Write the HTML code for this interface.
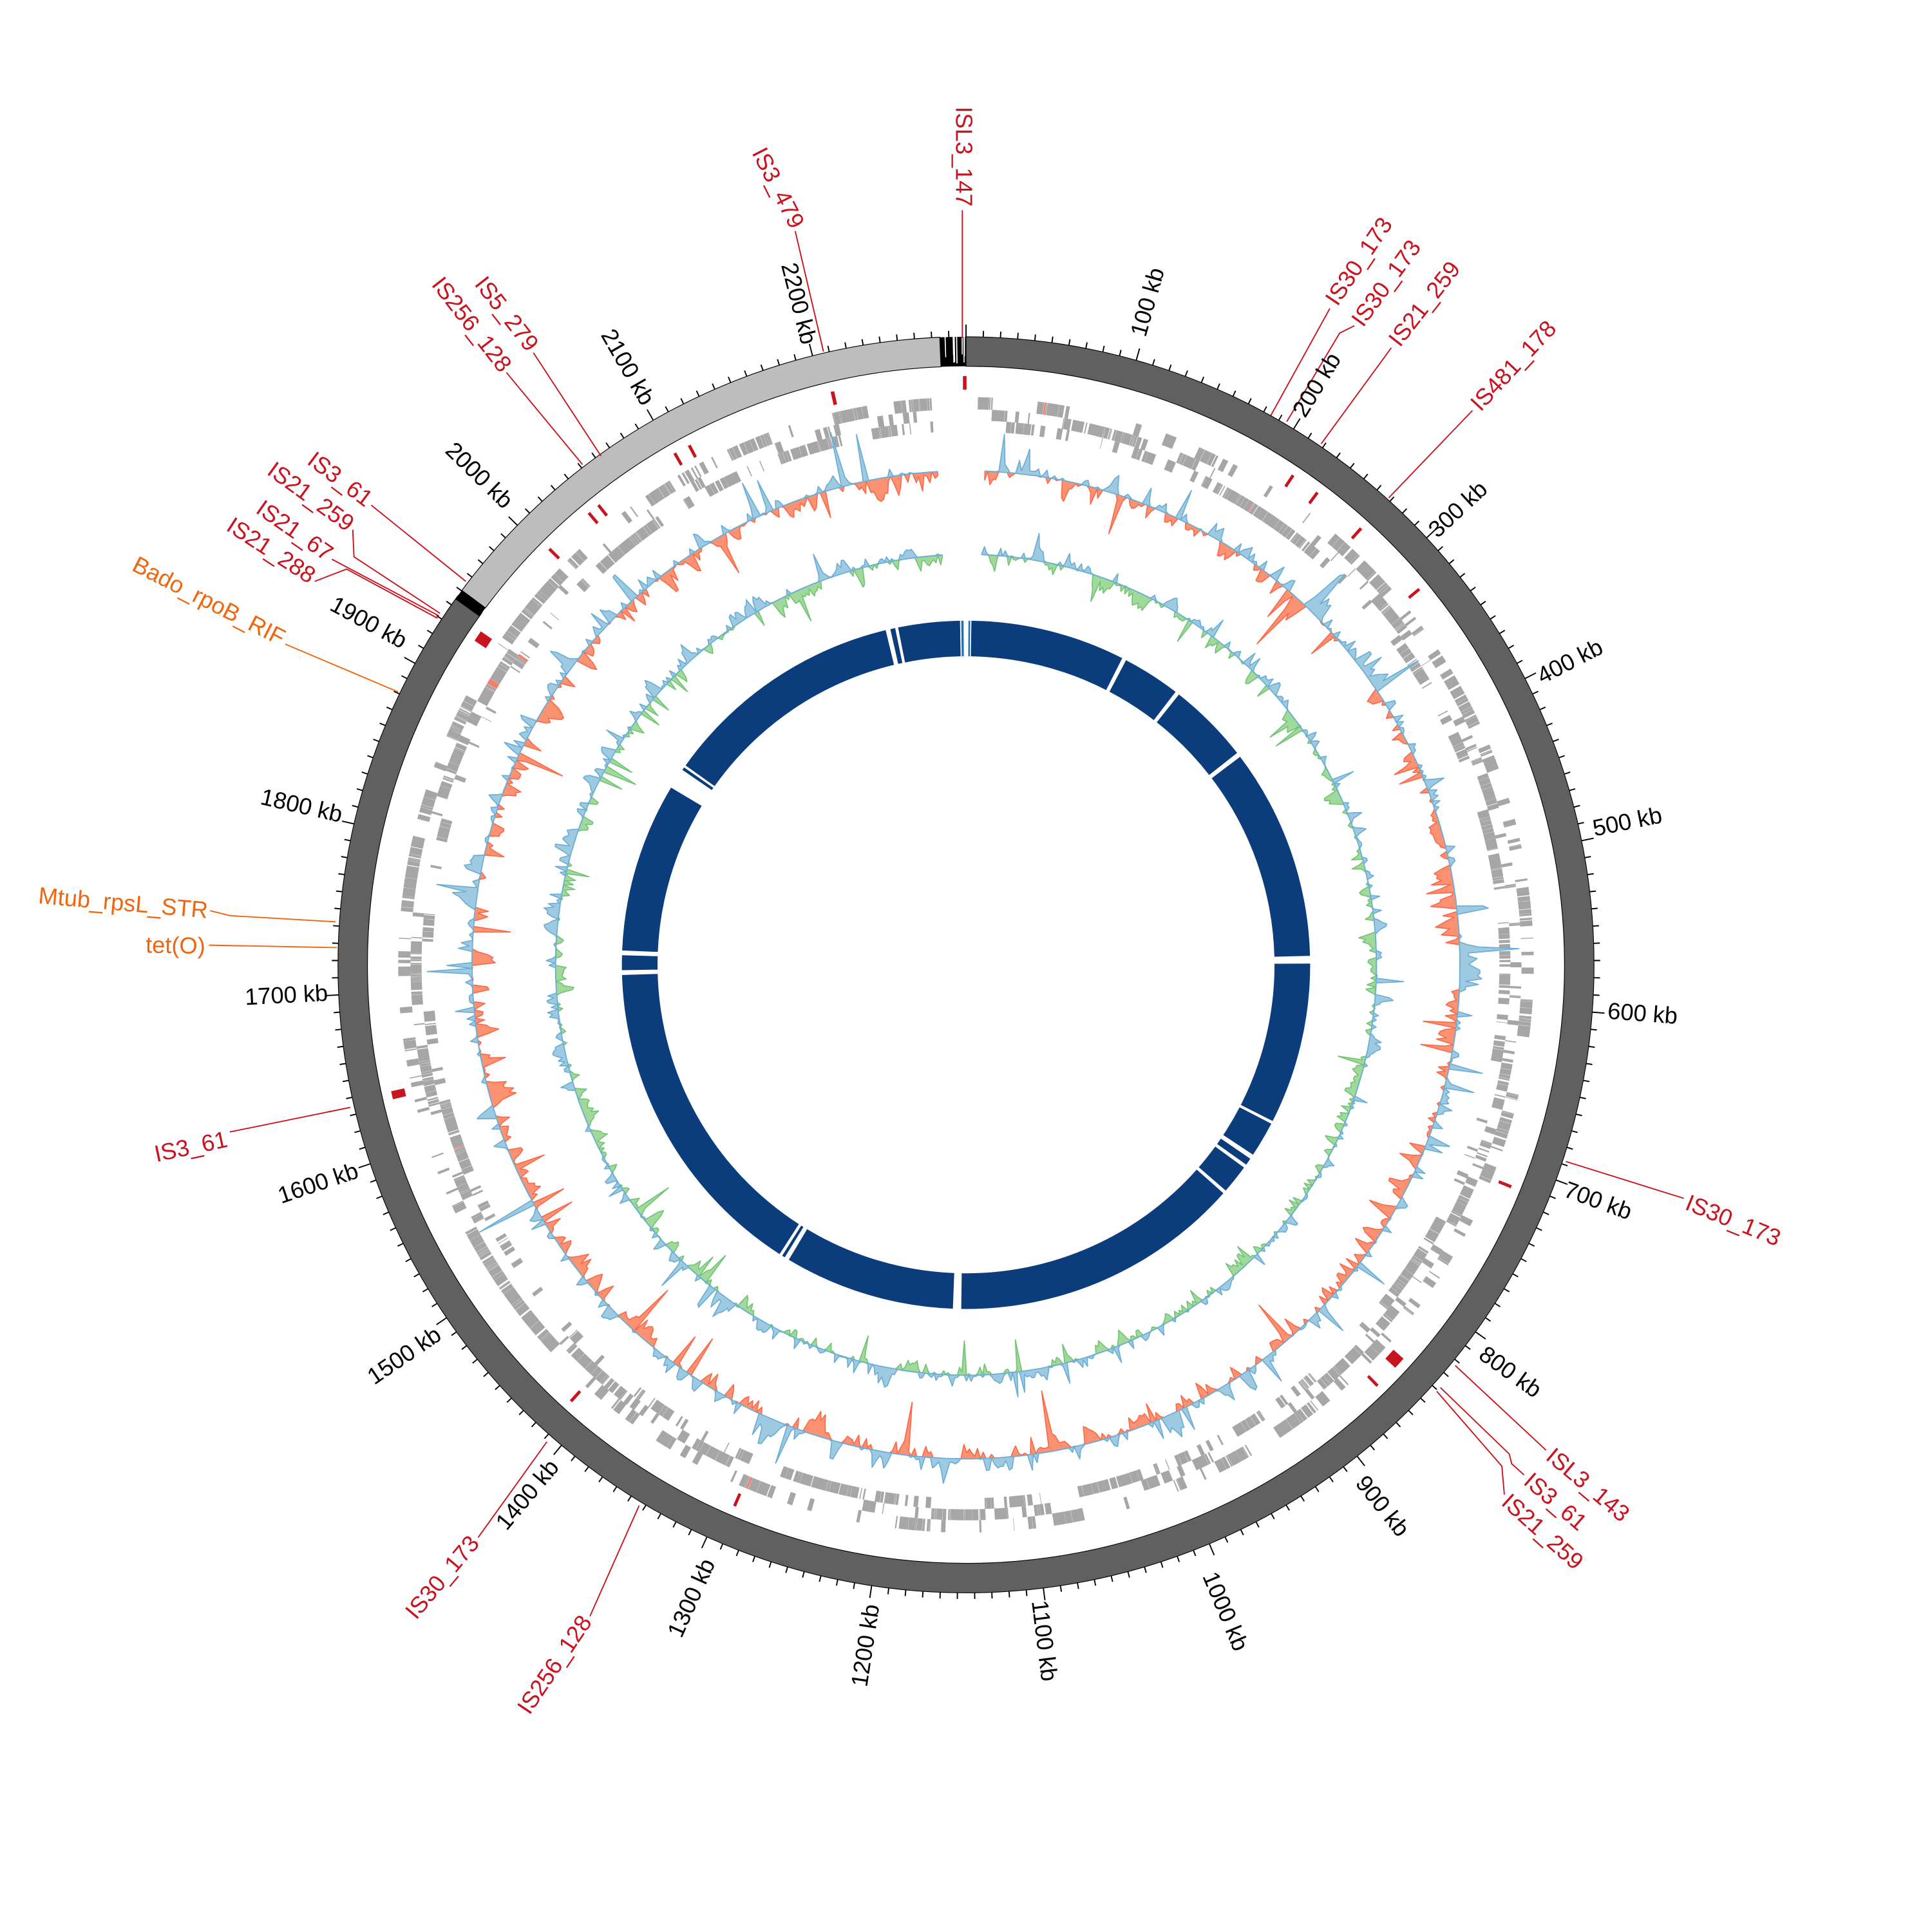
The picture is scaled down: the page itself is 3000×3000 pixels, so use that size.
<!DOCTYPE html>
<html><head><meta charset="utf-8"><style>
html,body{margin:0;padding:0;background:#fff}
svg{display:block}
text{font-family:"Liberation Sans",sans-serif}
.kb{font-size:19px;fill:#000}
.r{font-size:19px;fill:#c8141e}
.o{font-size:19px;fill:#f0660f}
.lr{stroke:#c8141e;stroke-width:1;fill:none}
.lo{stroke:#f0660f;stroke-width:1;fill:none}
</style></head><body>
<svg id="s" xmlns="http://www.w3.org/2000/svg" width="3000" height="3000" viewBox="0 0 1550 1550">
<rect width="1550" height="1550" fill="#fff"/>
<g transform="matrix(0.986 0 0 0.986 2 3)">
<g id="tracks"></g>
<g id="labels" dominant-baseline="middle">
<polyline class="lr" points="781,168 781,272"/>
<polyline class="lr" points="645,185 668,283"/>
<polyline class="lr" points="410,300 472,375"/>
<polyline class="lr" points="432,284 487,368"/>
<polyline class="lr" points="300,408 377,470"/>
<polyline class="lr" points="285,428 286,450 356,496"/>
<polyline class="lr" points="268,452 355,498"/>
<polyline class="lr" points="254,470 280,460 354,500"/>
<polyline class="lo" points="230,521 322,560"/>
<polyline class="lo" points="169,738 185,742 271,747"/>
<polyline class="lo" points="168,766 272,768"/>
<polyline class="lr" points="185,918 283,898"/>
<polyline class="lr" points="387,1248 443,1170"/>
<polyline class="lr" points="478,1312 518,1222"/>
<polyline class="lr" points="1368,972 1272,942"/>
<polyline class="lr" points="1256,1177 1182,1108"/>
<polyline class="lr" points="1238,1197 1228,1188 1226,1180 1170,1126"/>
<polyline class="lr" points="1222,1213 1220,1190 1167,1129"/>
<polyline class="lr" points="1080,248 1032,335"/>
<polyline class="lr" points="1100,262 1088,268 1045,340"/>
<polyline class="lr" points="1130,280 1073,358"/>
<polyline class="lr" points="1196,331 1128,402"/>
<text class="r" text-anchor="end" transform="translate(781,165) rotate(90)">ISL3_147</text>
<text class="r" text-anchor="end" transform="translate(646,182) rotate(63)">IS3_479</text>
<text class="r" text-anchor="end" transform="translate(409,298) rotate(52)">IS256_128</text>
<text class="r" text-anchor="end" transform="translate(431,281) rotate(52)">IS5_279</text>
<text class="r" text-anchor="end" transform="translate(298,406) rotate(37)">IS3_61</text>
<text class="r" text-anchor="end" transform="translate(283,426) rotate(36)">IS21_259</text>
<text class="r" text-anchor="end" transform="translate(266,450) rotate(35)">IS21_67</text>
<text class="r" text-anchor="end" transform="translate(252,468) rotate(33)">IS21_288</text>
<text class="o" text-anchor="end" transform="translate(228,518) rotate(27)">Bado_rpoB_RIF</text>
<text class="o" text-anchor="end" transform="translate(167,739) rotate(5)">Mtub_rpsL_STR</text>
<text class="o" text-anchor="end" transform="translate(165,768) rotate(1)">tet(O)</text>
<text class="r" text-anchor="end" transform="translate(183,925) rotate(-12)">IS3_61</text>
<text class="r" text-anchor="end" transform="translate(385,1250) rotate(-50)">IS30_173</text>
<text class="r" text-anchor="end" transform="translate(476,1314) rotate(-56)">IS256_128</text>
<text class="r" text-anchor="start" transform="translate(1370,976) rotate(22)">IS30_173</text>
<text class="r" text-anchor="start" transform="translate(1258,1180) rotate(40)">ISL3_143</text>
<text class="r" text-anchor="start" transform="translate(1240,1200) rotate(41)">IS3_61</text>
<text class="r" text-anchor="start" transform="translate(1222,1217) rotate(42)">IS21_259</text>
<text class="r" text-anchor="start" transform="translate(1082,244) rotate(-56)">IS30_173</text>
<text class="r" text-anchor="start" transform="translate(1103,261) rotate(-54)">IS30_173</text>
<text class="r" text-anchor="start" transform="translate(1133,277) rotate(-52)">IS21_259</text>
<text class="r" text-anchor="start" transform="translate(1199,329) rotate(-47)">IS481_178</text>
<text class="kb" text-anchor="start" transform="translate(925.2,270.5) rotate(-74.3)">100 kb</text>
<text class="kb" text-anchor="start" transform="translate(1055.6,335.1) rotate(-58.6)">200 kb</text>
<text class="kb" text-anchor="start" transform="translate(1164.2,431.7) rotate(-42.9)">300 kb</text>
<text class="kb" text-anchor="start" transform="translate(1250.6,549.3) rotate(-27.2)">400 kb</text>
<text class="kb" text-anchor="start" transform="translate(1294.4,672.5) rotate(-11.4)">500 kb</text>
<text class="kb" text-anchor="start" transform="translate(1306.0,820.8) rotate(4.3)">600 kb</text>
<text class="kb" text-anchor="start" transform="translate(1271.0,965.4) rotate(20.0)">700 kb</text>
<text class="kb" text-anchor="start" transform="translate(1203.0,1097.7) rotate(35.7)">800 kb</text>
<text class="kb" text-anchor="start" transform="translate(1104.1,1200.9) rotate(51.4)">900 kb</text>
<text class="kb" text-anchor="start" transform="translate(980.8,1277.4) rotate(67.2)">1000 kb</text>
<text class="kb" text-anchor="start" transform="translate(842.4,1299.3) rotate(82.9)">1100 kb</text>
<text class="kb" text-anchor="end" transform="translate(708.5,1302.6) rotate(-81.4)">1200 kb</text>
<text class="kb" text-anchor="end" transform="translate(575.6,1266.9) rotate(-65.7)">1300 kb</text>
<text class="kb" text-anchor="end" transform="translate(449.8,1188.0) rotate(-50.0)">1400 kb</text>
<text class="kb" text-anchor="end" transform="translate(355.5,1081.9) rotate(-34.3)">1500 kb</text>
<text class="kb" text-anchor="end" transform="translate(289.2,950.1) rotate(-18.6)">1600 kb</text>
<text class="kb" text-anchor="end" transform="translate(264.8,806.2) rotate(-2.9)">1700 kb</text>
<text class="kb" text-anchor="end" transform="translate(276.0,661.3) rotate(12.9)">1800 kb</text>
<text class="kb" text-anchor="end" transform="translate(327.0,520.7) rotate(28.6)">1900 kb</text>
<text class="kb" text-anchor="end" transform="translate(411.2,408.2) rotate(44.3)">2000 kb</text>
<text class="kb" text-anchor="end" transform="translate(524.6,325.5) rotate(60.0)">2100 kb</text>
<text class="kb" text-anchor="end" transform="translate(655.1,276.9) rotate(75.7)">2200 kb</text>
</g>
</g>
</svg>
<script>
(function(){
var CX=784,CY=782,L=2290;
var g=document.getElementById("tracks");
function P(r,a){var t=a*Math.PI/180;return [CX+r*Math.sin(t),CY-r*Math.cos(t)];}
function f(p){return p[0].toFixed(1)+","+p[1].toFixed(1);}
function arc(r1,r2,a1,a2){var l=(a2-a1)>180?1:0;var p1=P(r2,a1),p2=P(r2,a2),p3=P(r1,a2),p4=P(r1,a1);
return "M"+f(p1)+"A"+r2+","+r2+" 0 "+l+" 1 "+f(p2)+"L"+f(p3)+"A"+r1+","+r1+" 0 "+l+" 0 "+f(p4)+"Z";}
var out=[];
function path(d,fill,extra){out.push('<path d="'+d+'" fill="'+fill+'" '+(extra||'')+'/>');}
var seed=12345;function rnd(){seed|=0;seed=seed+0x6D2B79F5|0;var t=Math.imul(seed^seed>>>15,1|seed);t=t+Math.imul(t^t>>>7,61|t)^t;return((t^t>>>14)>>>0)/4294967296;}
function gauss(){return (rnd()+rnd()+rnd()+rnd()-2)*1.7;}
path(arc(487,511,0,306),"#606060",'stroke="#000" stroke-width="0.6"');
path(arc(487,511,305.6,306.6),"#000");
path(arc(487,511,306.6,357.6),"#bdbdbd",'stroke="#000" stroke-width="0.6"');
path(arc(487,511,357.6,359.99),"#000");
for(var i=0;i<9;i++){var a=357.9+rnd()*1.9;path(arc(487+rnd()*10,511,a,a+0.1),"#fff");}
var tk="";
for(var k=0;k<L;k+=10){var a=k/L*360;var r2=(k%100==0)?521:516;tk+="M"+f(P(511,a))+"L"+f(P(r2,a));}
out.push('<path d="'+tk+'" stroke="#000" stroke-width="1" fill="none"/>');
var marks=[[-0.3,0.35],[-13.3,0.35],[-28.2,0.3],[-29.8,0.3],[-56.6,1.1],[-45.2,0.3],[33.6,0.3],[36.5,0.3],[42,0.3],[50.2,0.3],[112,0.3],[132,1.2],[135.5,0.3],[222,0.3],[203,0.3],[256.8,0.8],[-38.8,0.3],[-40,0.3]];
marks.forEach(function(m){path(arc(468,479,m[0],m[0]+m[1]),"#c8141e");});
// gene ring: 3 levels
var lv=[[452,462],[443,452],[434,443]];
var a=1.2,lvl=0;
while(a<356.5){var w=0.08+rnd()*rnd()*1.6;if(rnd()<0.3)lvl=Math.floor(rnd()*3);
 var col=rnd()<0.012?"#f08070":"#a6a6a6";
 var rr=lv[lvl];path(arc(rr[0],rr[1],a,Math.min(a+w,356.5)),col);
 if(rnd()<0.35){var l2=(lvl+1+Math.floor(rnd()*2))%3;var b=a+rnd()*w;var w2=0.05+rnd()*0.6;path(arc(lv[l2][0],lv[l2][1],b,Math.min(b+w2,356.5)),"#a6a6a6");}
 a+=w+(rnd()<0.3?rnd()*0.25:0.02);}
function track(base,n,amp,posFill,posStr,negFill,negStr,bias,spike){
 var vals=[],v=0,angs=[];
 for(var i=0;i<n;i++){var a=2.2+i*(354.5/(n-1));angs.push(a);v=0.6*v+gauss()*amp+bias*amp;var s=v;if(rnd()<spike)s+=(rnd()<0.5?-1:1)*amp*(2.5+rnd()*3.5);vals.push(s);}
 var pos="M"+f(P(base,angs[0])),neg=pos;
 for(var i=0;i<n;i++){var p=Math.max(vals[i],0),q=Math.min(vals[i],0);pos+="L"+f(P(base+p,angs[i]));neg+="L"+f(P(base+q,angs[i]));}
 var cl="L"+f(P(base,angs[n-1]));
 for(var i=n-1;i>=0;i-=10){cl+="L"+f(P(base,angs[i]));}
 cl+="L"+f(P(base,angs[0]))+"Z";
 path(neg+cl,negFill,'stroke="'+negStr+'" stroke-width="0.9" stroke-linejoin="round"');
 path(pos+cl,posFill,'stroke="'+posStr+'" stroke-width="0.9" stroke-linejoin="round"');
}
track(402,1100,6.5,"#9ecae1","#6baed6","#fc9272","#fb6a4a",-0.05,0.05);
track(334,1100,4.5,"#9ecae1","#6baed6","#a1d99b","#74c476",0.02,0.04);
var gaps=[[-1.0,0.9],[-13.5,-12.7],[-11.9,-11.4],[27,27.7],[37.5,38.2],[52,52.8],[88.5,89.8],[117,117.5],[123.5,124.3],[125.5,126.1],[131,131.6],[180.8,182.2],[211,211.8],[212.3,212.8],[268.3,269.1],[271.6,272.4],[301,304.5],[305,305.4]];
var norm=gaps.map(function(g){return [(g[0]+360)%360,(g[1]+360)%360];}).sort(function(a,b){return a[0]-b[0];});
var segs=[],cur=0.9;norm.forEach(function(gp){if(gp[0]>cur+0.01&&gp[0]<359){segs.push([cur,gp[0]]);cur=gp[1];}});
segs.push([cur,359]);
segs.forEach(function(s){if(s[1]>s[0])path(arc(251,280,s[0],s[1]),"#0b3d7c");});
path(arc(251,280,359.2,359.6),"#1f6fb4");path(arc(251,280,0.4,0.7),"#1f6fb4");
path(arc(251,280,348.7,349.0),"#0b3d7c");
g.innerHTML=out.join("");
})();
</script>
</body></html>
